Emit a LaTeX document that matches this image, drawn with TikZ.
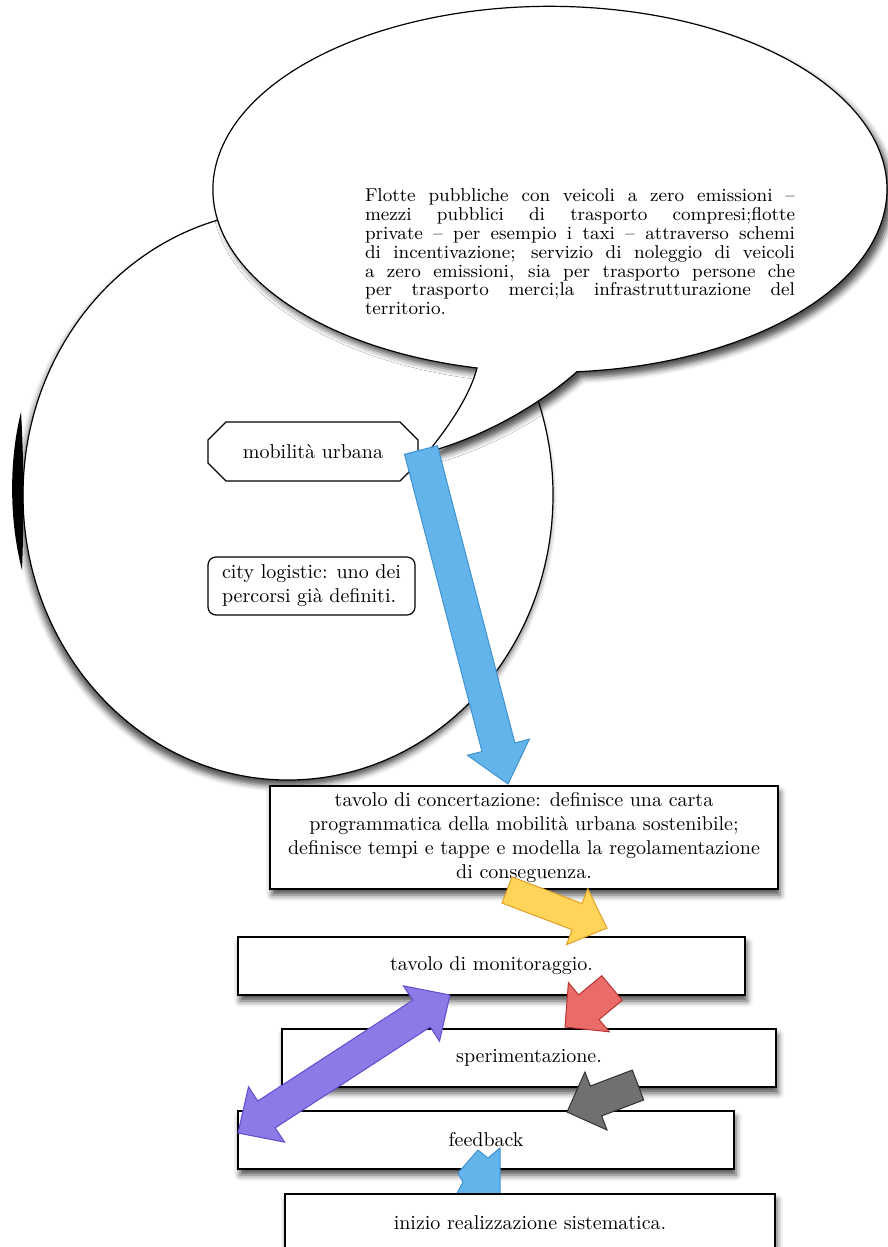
\documentclass[tikz,border=0pt]{standalone}
\usepackage{fontspec}
\usetikzlibrary{calc,shapes.geometric,shapes.misc,shadows.blur}

\definecolor{skyfill}{RGB}{98,180,234}
\definecolor{skyedge}{RGB}{64,146,210}
\definecolor{sunfill}{RGB}{255,212,88}
\definecolor{sunedge}{RGB}{226,160,40}
\definecolor{redfill}{RGB}{234,108,104}
\definecolor{rededge}{RGB}{186,52,52}
\definecolor{inkfill}{RGB}{112,112,112}
\definecolor{inkedge}{RGB}{50,50,50}
\definecolor{lilacfill}{RGB}{142,122,230}
\definecolor{lilacedge}{RGB}{96,76,206}

% one justified line of the bubble text
\newcommand{\jline}[1]{\makebox[215pt][s]{#1}}

% block arrow: [style] from, to, half shaft, half head, head length
\newcommand{\fatarrow}[6][]{%
  \coordinate (fa-b) at ($(#3)!#6!(#2)$);
  \draw[fat,#1] ($(#2)!#4!90:(#3)$) -- ($(fa-b)!#4!90:(#3)$) -- ($(fa-b)!#5!90:(#3)$) -- (#3)
    -- ($(fa-b)!#5!-90:(#3)$) -- ($(fa-b)!#4!-90:(#3)$) -- ($(#2)!#4!-90:(#3)$) -- cycle;
}
% block arrow with two heads
\newcommand{\fatdarrow}[6][]{%
  \coordinate (fa-a) at ($(#2)!#6!(#3)$);
  \coordinate (fa-b) at ($(#3)!#6!(#2)$);
  \draw[fat,#1] (#2) -- ($(fa-a)!#5!90:(#3)$) -- ($(fa-a)!#4!90:(#3)$) -- ($(fa-b)!#4!90:(#3)$)
    -- ($(fa-b)!#5!90:(#3)$) -- (#3) -- ($(fa-b)!#5!-90:(#3)$) -- ($(fa-b)!#4!-90:(#3)$)
    -- ($(fa-a)!#4!-90:(#3)$) -- ($(fa-a)!#5!-90:(#3)$) -- cycle;
}

\tikzset{
  bubble/.style={draw, fill=white, line width=0.6pt},
  stage/.style={draw, fill=white, line width=0.7pt, minimum height=29pt, align=center, inner sep=2pt,
    blur shadow={shadow xshift=1pt, shadow yshift=-3pt, shadow blur radius=3pt, shadow opacity=70}},
  fat/.style={line width=0.5pt, line join=miter},
}

\begin{document}
\begin{tikzpicture}[x=0.5pt, y=-0.5pt]
  \clip (0,0) rectangle (888,1247);

  % cerchio e fumetto
  \node[bubble, ellipse, minimum width=265pt, minimum height=285pt,
    blur shadow={shadow xshift=-1pt, shadow yshift=-3pt, shadow blur radius=3pt, shadow opacity=70}] (city) at (288,495) {};
  \fill (21,412) .. controls (9,460) and (9,520) .. (22,570) .. controls (24,520) and (24,460) .. cycle;
  \coordinate (tip) at (428,452);
  \draw[bubble, blur shadow={shadow xshift=2.5pt, shadow yshift=-3pt, shadow blur radius=3pt, shadow opacity=70}]
    (477,368) arc[start angle=102.5, end angle=445.4, x radius=337, y radius=183]
    .. controls (545,400) and (490,435) .. (tip) .. controls (450,425) and (470,395) .. cycle;
  \node[font=\fontsize{9.3}{9.4}\selectfont, align=left, inner sep=0pt] (fleet) at (580,252) {%
    \jline{Flotte pubbliche con veicoli a zero emissioni –}\\
    \jline{mezzi pubblici di trasporto compresi;flotte}\\
    \jline{private – per esempio i taxi – attraverso schemi}\\
    \jline{di incentivazione; servizio di noleggio di veicoli}\\
    \jline{a zero emissioni, sia per trasporto persone che}\\
    \jline{per trasporto merci;la infrastrutturazione del}\\
    territorio.};

  \node[bubble, chamfered rectangle, chamfered rectangle xsep=5.5pt, chamfered rectangle ysep=5.5pt,
    minimum width=105pt, minimum height=29.5pt, inner sep=0pt] (urban) at (313,451.5) {mobilità urbana};
  \node[bubble, rounded corners=4pt, minimum width=103.5pt, minimum height=29pt, align=left,
    inner sep=2pt] (logis) at (311.5,586) {city logistic: uno dei\\percorsi già definiti.};

  \coordinate (bl-s) at (421,450);
  \coordinate (bl-e) at (508,784);
  \fatarrow[draw=skyedge, fill=skyfill]{bl-s}{bl-e}{8.5pt}{16pt}{19pt}

  % tavoli
  \node[stage, minimum width=254pt, minimum height=51.5pt] (concert) at (524,837.5)
    {tavolo di concertazione: definisce una carta\\
     programmatica della mobilità urbana sostenibile;\\
     definisce tempi e tappe e modella la regolamentazione\\
     di conseguenza.};
  \node[stage, minimum width=253.5pt] (monitor) at (491.5,966) {tavolo di monitoraggio.};
  \coordinate (yl-s) at (507,890);
  \coordinate (yl-e) at (607,928);
  \fatarrow[draw=sunedge, fill=sunfill]{yl-s}{yl-e}{7pt}{15pt}{16pt}

  \node[stage, minimum width=247pt] (trial) at (529,1058) {sperimentazione.};
  \coordinate (rd-s) at (612,988);
  \coordinate (rd-e) at (565,1027);
  \fatarrow[draw=rededge, fill=redfill]{rd-s}{rd-e}{8pt}{16pt}{15.5pt}

  \node[stage, minimum width=248pt] (feedback) at (486,1140) {feedback};
  \coordinate (gr-s) at (638,1085);
  \coordinate (gr-e) at (567,1112);
  \fatarrow[draw=inkedge, fill=inkfill]{gr-s}{gr-e}{8pt}{15.5pt}{15.5pt}

  \coordinate (pu-s) at (238,1133);
  \coordinate (pu-e) at (450,995);
  \fatdarrow[draw=lilacedge, fill=lilacfill]{pu-s}{pu-e}{8pt}{16.5pt}{17pt}

  \filldraw[fat, draw=skyedge, fill=skyfill] (455,1197) -- (463,1182) -- (458,1173) -- (478,1150)
    -- (488,1158) -- (500,1148) -- (500,1197) -- cycle;
  \node[stage, minimum width=245pt] (launch) at (530,1223) {inizio realizzazione sistematica.};
\end{tikzpicture}
\end{document}
